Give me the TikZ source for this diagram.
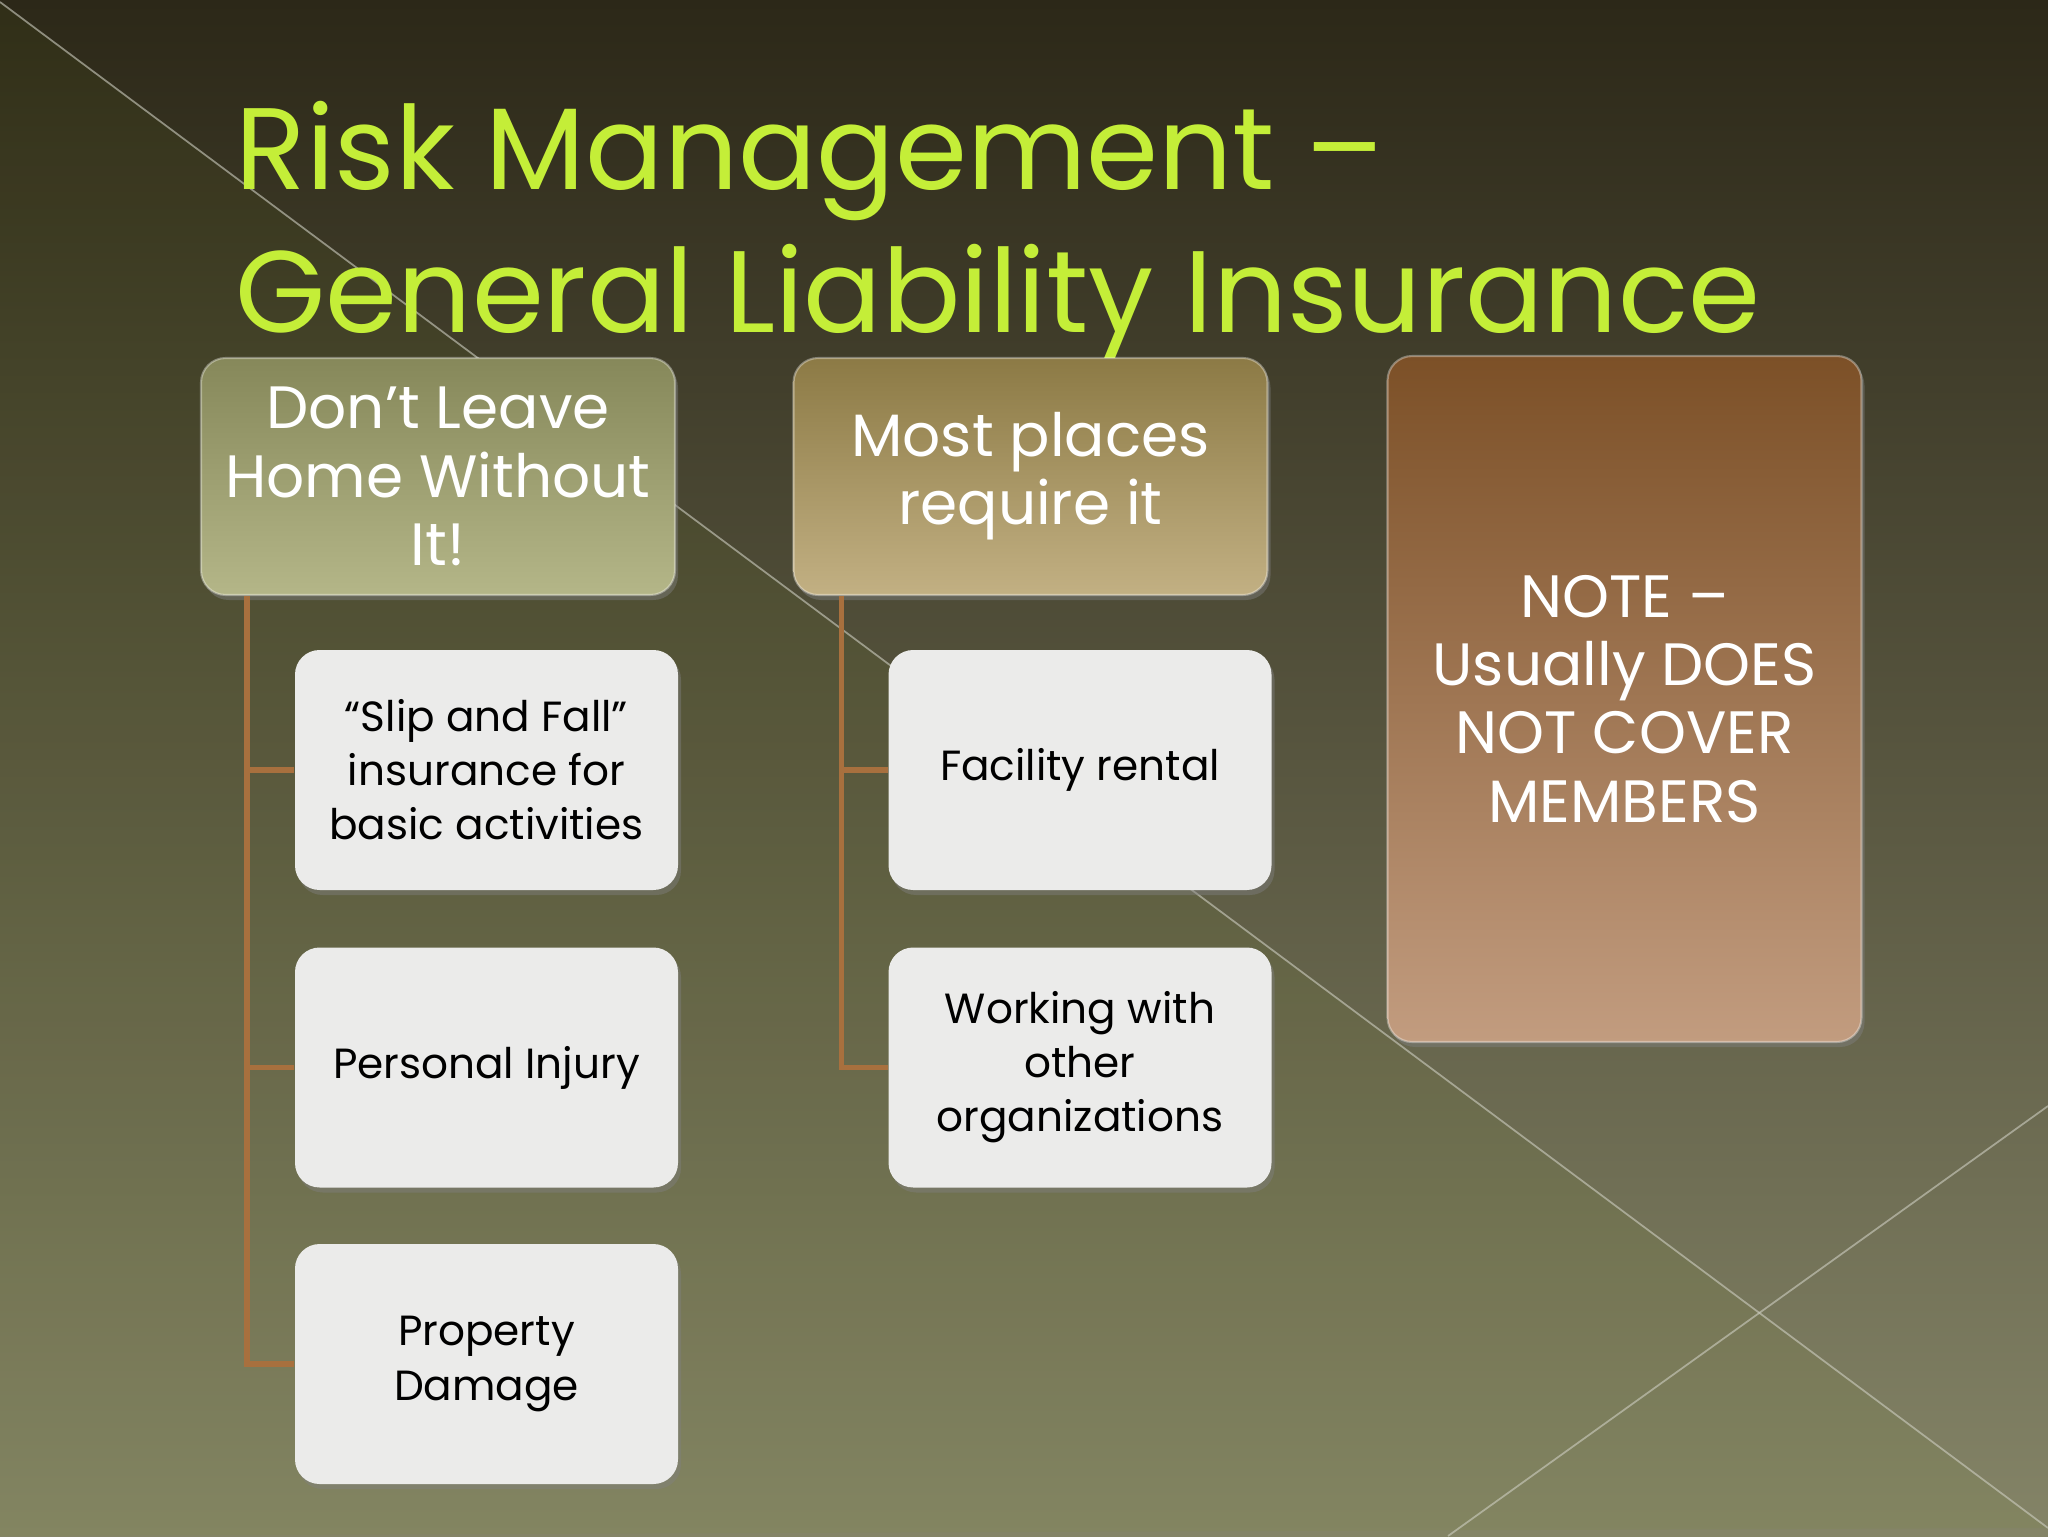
\documentclass[tikz,border=0pt]{standalone}
\usepackage{fontspec}
\setmainfont{Poppins}
\usetikzlibrary{shadows}

\definecolor{bgtop}{HTML}{2C2818}
\definecolor{bgmid}{HTML}{4B4924}
\definecolor{bgbot}{HTML}{848467}
\definecolor{titlegreen}{HTML}{C4EE38}
\definecolor{linkbrown}{HTML}{A8703E}
\definecolor{sageA}{HTML}{86885A}
\definecolor{sageB}{HTML}{B4B688}
\definecolor{goldA}{HTML}{8C7A45}
\definecolor{goldB}{HTML}{C2B083}
\definecolor{copperA}{HTML}{7C5027}
\definecolor{copperB}{HTML}{C29C7F}
\definecolor{paper}{HTML}{EBEBEA}

\tikzset{
  titletext/.style={anchor=base west, inner sep=0pt, text=titlegreen, font=\fontsize{33}{38}\selectfont},
  headbox/.style={rounded corners=7pt, minimum width=47.4mm, minimum height=23.7mm, align=center,
    text=white, font=\fontsize{17}{19.4}\selectfont, draw=white, draw opacity=.35, line width=0.6pt,
    drop shadow={opacity=.45, shadow xshift=0.3mm, shadow yshift=-0.5mm}},
  leafbox/.style={rounded corners=7pt, minimum width=38.3mm, minimum height=24mm, align=center,
    fill=paper, text=black, font=\fontsize{12}{15.4}\selectfont,
    drop shadow={opacity=.45, shadow xshift=0.3mm, shadow yshift=-0.5mm}},
  link/.style={draw=linkbrown, line width=1.6pt},
  bgline/.style={draw=white!60!bgbot, draw opacity=.6, line width=0.5pt}
}

\begin{document}
\begin{tikzpicture}[x=0.1mm, y=0.1mm]
  \useasboundingbox (0,0) rectangle (2048,1536);
  % background
  \fill[top color=bgtop, middle color=bgmid, bottom color=bgbot] (0,0) rectangle (2048,1536);
  \fill[olive!70!green, opacity=.06] (0,0) -- (0,1534) -- (2048,8) -- cycle;
  \draw[bgline] (0,1534) -- (2048,8);
  \draw[bgline] (2048,430) -- (1448,0);

  \node[titletext] (title1) at (235,1346) {Risk Management –};
  \node[titletext] (title2) at (235,1204) {General Liability Insurance};

  \node[headbox, top color=sageA, bottom color=sageB] (leave) at (438,1059.5) {Don’t Leave\\Home Without\\It!};
  \node[headbox, top color=goldA, bottom color=goldB] (places) at (1030.5,1059.5) {Most places\\require it};
  \node[headbox, top color=copperA, bottom color=copperB, minimum height=68.6mm] (note) at (1624.5,837)
    {NOTE –\\Usually DOES\\NOT COVER\\MEMBERS};

  \node[leafbox] (slip) at (486.5,766) {“Slip and Fall”\\insurance for\\basic activities};
  \node[leafbox] (injury) at (486.5,468.5) {Personal Injury};
  \node[leafbox] (damage) at (486.5,172) {Property\\Damage};
  \node[leafbox] (rental) at (1080,766) {Facility rental};
  \node[leafbox] (orgs) at (1080,468.5) {Working with\\other\\organizations};

  \foreach \kid in {slip,injury,damage}
    \draw[link] ([xshift=4.7mm]leave.south west) |- (\kid.west);
  \foreach \kid in {rental,orgs}
    \draw[link] ([xshift=4.9mm]places.south west) |- (\kid.west);
\end{tikzpicture}
\end{document}
